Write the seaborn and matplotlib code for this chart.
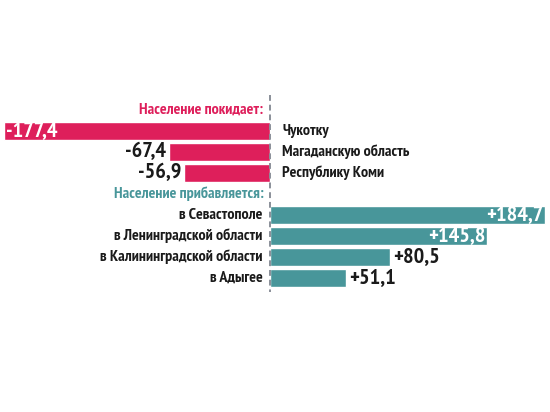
import pandas as pd
import matplotlib
matplotlib.use('Agg')
import matplotlib.pyplot as plt
import seaborn as sns

# data
leave_labels = ['Чукотку', 'Магаданскую область', 'Республику Коми']
leave_values = [-177.4, -67.4, -56.9]
gain_labels = ['в Севастополе', 'в Ленинградской области', 'в Калининградской области', 'в Адыгее']
gain_values = [184.7, 145.8, 80.5, 51.1]
title_leave = 'Население покидает:'
title_gain = 'Население прибавляется:'

pink = '#DE1F5B'
teal = '#48969A'
font = ['PT Sans Narrow', 'DejaVu Sans']

df = pd.DataFrame({
    'label': leave_labels + gain_labels,
    'value': leave_values + gain_values,
    'group': ['leave'] * len(leave_labels) + ['gain'] * len(gain_labels),
})
order = [title_leave] + leave_labels + [title_gain] + gain_labels

sns.set_style('white')
plt.rcParams['font.family'] = font

fig = plt.figure(figsize=(5.5, 4.12), dpi=100)
ax = fig.add_axes([0, 0, 1, 1])
sns.barplot(data=df, x='value', y='label', hue='group', order=order,
            palette={'leave': pink, 'gain': teal}, dodge=False, width=0.86,
            saturation=1, edgecolor='white', linewidth=1, legend=False, ax=ax)

# pixel mapping: zero at 269.5 px, 1.494 px per unit; rows every 21 px starting at 110 px
ax.set_xlim(-269.5 / 1.494, (550 - 269.5) / 1.494)
ax.set_ylim((412 - 110) / 21, -110 / 21)
ax.axis('off')

ax.plot([0, 0], [-15 / 21, 182 / 21], color='#8a8f99', lw=1.4, ls=(0, (3, 2)))

px = 1 / 1.494
lab_size = 11.5
val_size = 16
ax.text(-6 * px, 0, title_leave, ha='right', va='center', color=pink,
        fontsize=lab_size, fontweight='bold', family=font)
ax.text(-6 * px, 4, title_gain, ha='right', va='center', color=teal,
        fontsize=lab_size, fontweight='bold', family=font)

for i, (lab, v) in enumerate(zip(leave_labels, leave_values)):
    y = 1 + i
    ax.text(13 * px, y, lab, ha='left', va='center', fontsize=lab_size,
            fontweight='bold', color='#1a1a1a', family=font)
    s = f'{v:.1f}'.replace('.', ',')
    if abs(v) > 100:
        ax.text(v + 2 * px, y, s, ha='left', va='center', fontsize=val_size,
                fontweight='bold', color='white', family=font)
    else:
        ax.text(v - 3 * px, y, s, ha='right', va='center', fontsize=val_size,
                fontweight='bold', color='#1a1a1a', family=font)

for i, (lab, v) in enumerate(zip(gain_labels, gain_values)):
    y = 5 + i
    ax.text(-7 * px, y, lab, ha='right', va='center', fontsize=lab_size,
            fontweight='bold', color='#1a1a1a', family=font)
    s = f'{v:+.1f}'.replace('.', ',')
    if v > 100:
        ax.text(v - 2 * px, y, s, ha='right', va='center', fontsize=val_size,
                fontweight='bold', color='white', family=font)
    else:
        ax.text(v + 3 * px, y, s, ha='left', va='center', fontsize=val_size,
                fontweight='bold', color='#1a1a1a', family=font)

fig.savefig('out.png', dpi=100)
